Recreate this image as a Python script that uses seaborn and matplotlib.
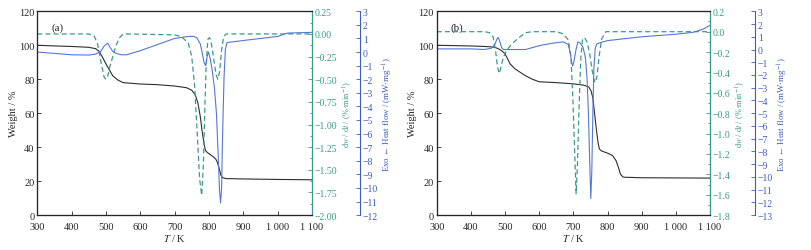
import matplotlib

matplotlib.use("Agg")

import matplotlib.pyplot as plt
import seaborn as sns
from matplotlib.ticker import MultipleLocator

# ---- panel (a) ----
A_W_T = [300, 350, 400, 450, 470, 480, 490, 500, 510, 520, 535, 550, 575, 600, 650, 700, 735,
         750, 760, 768, 775, 780, 785, 790, 795, 800, 810, 820, 825, 830, 835, 840, 850, 900, 1000, 1100]
A_W = [100, 99.6, 99.3, 98.8, 98, 96.5, 93, 89, 85.5, 82, 79.5, 78, 77.6, 77.2, 76.8, 76, 75,
       73.5, 71, 66, 58, 50, 43, 38, 37, 36.2, 34.8, 33, 31, 27.5, 23.5, 22, 21.5, 21.3, 21, 20.8]

A_D_T = [300, 450, 465, 475, 485, 495, 500, 505, 512, 520, 530, 540, 550, 560, 700, 720, 740, 750,
         758, 766, 773, 779, 784, 788, 792, 797, 802, 808, 815, 821, 826, 831, 837, 843, 850, 1000, 1100]
A_D = [0, 0, -0.02, -0.1, -0.3, -0.48, -0.5, -0.47, -0.35, -0.25, -0.12, -0.04, 0, 0, -0.01, -0.03,
       -0.1, -0.25, -0.55, -1.1, -1.6, -1.78, -1.45, -0.85, -0.35, -0.06, -0.04, -0.12, -0.3, -0.45,
       -0.5, -0.42, -0.18, -0.03, 0, 0, 0]

A_H_T = [300, 350, 400, 450, 470, 485, 495, 505, 512, 520, 530, 545, 560, 600, 650, 700, 740, 755,
         765, 775, 781, 786, 791, 795, 799, 804, 810, 816, 822, 827, 831, 834, 837, 840, 844, 848,
         853, 900, 1000, 1030, 1100]
A_H = [0, -0.1, -0.2, -0.22, -0.15, 0.05, 0.45, 0.65, 0.35, 0.05, -0.1, -0.2, -0.2, 0.1, 0.55, 1.0,
       1.15, 1.16, 1.05, 0.6, -0.1, -0.8, -1.0, -0.3, 0, -0.5, -1.4, -2.6, -4.5, -7.5, -10.2, -11.1,
       -10, -6, -2, 0.2, 0.7, 0.85, 1.15, 1.4, 1.45]

# ---- panel (b) ----
B_W_T = [300, 400, 450, 470, 480, 490, 500, 505, 515, 530, 560, 580, 600, 650, 700, 730, 745, 752,
         757, 762, 767, 772, 776, 782, 800, 815, 825, 832, 838, 845, 850, 900, 1000, 1100]
B_W = [100, 99.6, 99.2, 98.8, 98, 96.8, 95, 93, 89, 86, 82, 80, 78.5, 78, 77.3, 76.5, 75.5, 73,
       69, 60, 51, 43, 39, 37.8, 36.5, 35, 32, 28, 24, 22.5, 22.3, 22, 21.9, 21.8]

B_D_T = [300, 440, 455, 465, 472, 478, 483, 488, 495, 505, 520, 540, 560, 580, 650, 670, 685, 693,
         699, 704, 708, 712, 717, 722, 727, 733, 740, 748, 755, 760, 764, 769, 775, 783, 795, 1000, 1100]
B_D = [0, 0, -0.01, -0.05, -0.18, -0.35, -0.41, -0.35, -0.25, -0.18, -0.12, -0.06, -0.01, 0, 0,
       -0.02, -0.08, -0.25, -0.7, -1.2, -1.59, -1.3, -0.7, -0.25, -0.07, -0.06, -0.1, -0.22, -0.38,
       -0.47, -0.5, -0.44, -0.25, -0.07, 0, 0, 0]

B_H_T = [300, 350, 400, 440, 460, 470, 476, 480, 485, 490, 495, 520, 560, 600, 640, 670, 685, 691,
         695, 698, 702, 707, 713, 720, 728, 735, 740, 744, 748, 751, 754, 757, 760, 764, 769, 780,
         800, 900, 1000, 1050, 1080, 1100]
B_H = [0.05, 0.05, 0.05, 0, 0.1, 0.4, 0.8, 0.95, 0.6, 0.15, 0, 0, 0, 0.3, 0.5, 0.6, 0.4, -0.3,
       -1.0, -1.3, -0.9, -0.1, 0.6, 0.5, 0.2, -0.6, -2.2, -5, -9, -11.7, -9.5, -5, -1.5, 0.1, 0.45,
       0.55, 0.7, 1.0, 1.2, 1.35, 1.6, 1.9]

BLACK = "#2e2e2e"
GREEN = "#3a9a88"
BLUE = "#5577d8"
BLUE_AX = "#3b5cc4"

sns.set_theme(style="ticks")
plt.rcParams["font.family"] = ["Liberation Serif", "DejaVu Serif"]
plt.rcParams["mathtext.fontset"] = "stix"
plt.rcParams["font.size"] = 7
plt.rcParams["axes.linewidth"] = 0.8

XTICKS = [300, 400, 500, 600, 700, 800, 900, 1000, 1100]
XLABELS = ["300", "400", "500", "600", "700", "800", "900", "1 000", "1 100"]


def panel(fig, rect, tag, w, d, h, dlim, dstep, dfmt, hlim, offset):
    ax = fig.add_axes(rect)
    sns.lineplot(x=w[0], y=w[1], ax=ax, color=BLACK, linewidth=0.8)
    ax.set_xlim(300, 1100)
    ax.set_ylim(0, 120)
    ax.set_xticks(XTICKS, XLABELS)
    ax.yaxis.set_major_locator(MultipleLocator(20))
    ax.set_xlabel("$T$ / K", fontsize=7.5, labelpad=1)
    ax.set_ylabel("Weight / %", fontsize=7.5, labelpad=1)
    ax.tick_params(direction="in", length=3, width=0.6, labelsize=7.5)
    ax.tick_params(axis="x", pad=5)
    ax.tick_params(axis="y", pad=2)
    ax.text(0.05, 0.91, tag, transform=ax.transAxes, fontsize=8)

    ax2 = ax.twinx()
    sns.lineplot(x=d[0], y=d[1], ax=ax2, color=GREEN, linewidth=0.9, linestyle=(0, (4, 2.5)))
    ax2.set_ylim(*dlim)
    ax2.yaxis.set_major_locator(MultipleLocator(dstep))
    ax2.yaxis.set_minor_locator(MultipleLocator(dstep / 2))
    ax2.yaxis.set_major_formatter(dfmt)
    ax2.spines["right"].set_color(GREEN)
    ax2.tick_params(axis="y", which="both", direction="in", colors=GREEN, labelsize=7, pad=2, width=0.6)
    ax2.tick_params(axis="y", which="major", length=3)
    ax2.tick_params(axis="y", which="minor", length=1.5)
    ax2.set_ylabel("d$w$ / d$t$ / (%·min$^{-1}$)", color=GREEN, fontsize=6, labelpad=2)

    ax3 = ax.twinx()
    ax3.spines["right"].set_position(("axes", offset))
    sns.lineplot(x=h[0], y=h[1], ax=ax3, color=BLUE, linewidth=0.8)
    ax3.set_ylim(*hlim)
    ax3.yaxis.set_major_locator(MultipleLocator(1))
    ax3.spines["right"].set_color(BLUE_AX)
    ax3.tick_params(axis="y", direction="in", length=3, width=0.6, colors=BLUE_AX, labelsize=7, pad=2)
    ax3.set_ylabel("Exo ← Heat flow / (mW·mg$^{-1}$)", color=BLUE_AX, fontsize=6.4, labelpad=2)
    for a in (ax2, ax3):
        a.set_xlim(300, 1100)
    return ax


fig = plt.figure(figsize=(8.11, 2.51), dpi=100)
panel(fig, [0.046, 0.139, 0.3385, 0.812], "(a)",
      (A_W_T, A_W), (A_D_T, A_D), (A_H_T, A_H),
      (-2.0, 0.25), 0.25, "{x:.2f}", (-12, 3), 1.176)
panel(fig, [0.5385, 0.139, 0.337, 0.812], "(b)",
      (B_W_T, B_W), (B_D_T, B_D), (B_H_T, B_H),
      (-1.8, 0.2), 0.2, "{x:.1f}", (-13, 3), 1.165)

fig.savefig("out.png", dpi=100)
plt.close(fig)
